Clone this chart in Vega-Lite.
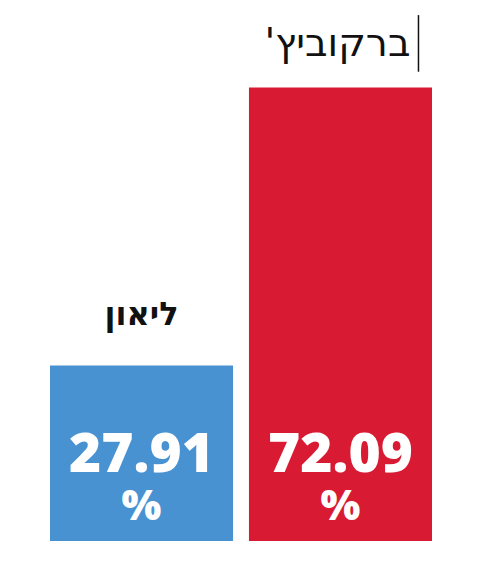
{
  "$schema": "https://vega.github.io/schema/vega-lite/v6.json",
  "width": 382,
  "height": 541,
  "autosize": {"type": "none"},
  "padding": {"left": 50, "top": 0, "right": 58, "bottom": 24},
  "background": "white",
  "config": {"view": {"stroke": null}},
  "data": {
    "values": [
      {"name": "Leon", "label": "ליאון", "value": 27.91, "color": "#4892D2"},
      {"name": "Berkovitch", "label": "ברקוביץ'\u200f", "value": 72.09, "color": "#D81A33"}
    ]
  },
  "encoding": {
    "x": {
      "field": "name",
      "type": "nominal",
      "sort": null,
      "scale": {"paddingInner": 0.08, "paddingOuter": 0},
      "axis": null
    }
  },
  "layer": [
    {
      "mark": {"type": "bar"},
      "encoding": {
        "y": {
          "field": "value",
          "type": "quantitative",
          "scale": {"domain": [0, 86], "nice": false},
          "axis": null
        },
        "color": {"field": "color", "type": "nominal", "scale": null, "legend": null}
      }
    },
    {
      "transform": [{"filter": "datum.name == 'Leon'"}],
      "mark": {
        "type": "text",
        "font": "DejaVu Sans",
        "fontWeight": "bold",
        "fontSize": 32,
        "baseline": "alphabetic",
        "dy": -40,
        "color": "#111"
      },
      "encoding": {
        "y": {"field": "value", "type": "quantitative"},
        "text": {"field": "label"}
      }
    },
    {
      "transform": [{"filter": "datum.name == 'Berkovitch'"}],
      "mark": {
        "type": "text",
        "font": "DejaVu Sans",
        "fontSize": 39,
        "baseline": "alphabetic",
        "dy": -32,
        "dx": -3,
        "color": "#111"
      },
      "encoding": {
        "y": {"field": "value", "type": "quantitative"},
        "text": {"field": "label"}
      }
    },
    {
      "transform": [{"filter": "datum.name == 'Berkovitch'"}],
      "mark": {"type": "rule", "color": "#111", "strokeWidth": 1.5, "xOffset": 78},
      "encoding": {
        "y": {"datum": 83.6},
        "y2": {"datum": 74.6}
      }
    },
    {
      "mark": {
        "type": "text",
        "font": "Open Sans",
        "fontWeight": 800,
        "fontSize": 55,
        "baseline": "alphabetic",
        "dy": -69,
        "color": "white"
      },
      "encoding": {
        "y": {"datum": 0},
        "text": {"field": "value", "type": "quantitative", "format": ".2f"}
      }
    },
    {
      "mark": {
        "type": "text",
        "font": "Open Sans",
        "fontWeight": 800,
        "fontSize": 42,
        "baseline": "alphabetic",
        "dy": -21,
        "color": "white",
        "text": "%"
      },
      "encoding": {
        "y": {"datum": 0}
      }
    }
  ]
}
